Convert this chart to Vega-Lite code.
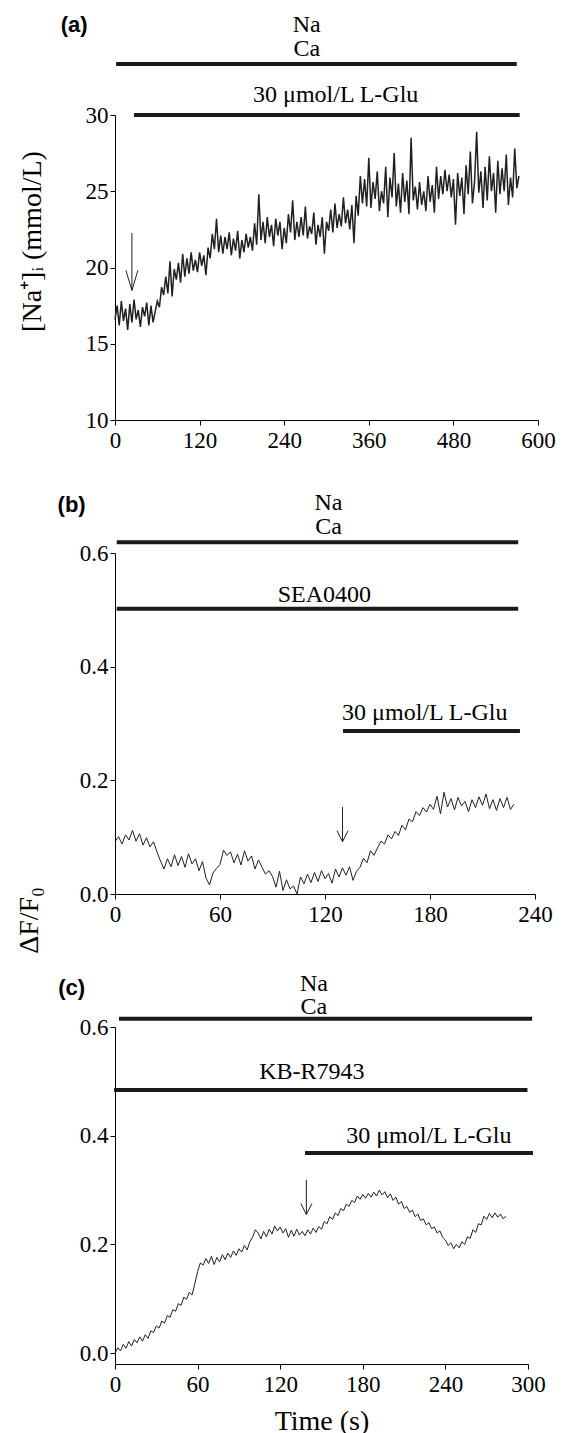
{
"$schema": "https://vega.github.io/schema/vega-lite/v6.json",
"padding": {"left": 15, "top": 13, "right": 5, "bottom": 5},
"bounds": "flush",
"spacing": 133,
"config": {
  "view": {"stroke": null},
  "font": "Liberation Serif",
  "text": {"font": "Liberation Serif", "color": "#000"}
},
"datasets": {
  "traceA": [
    {"t":0,"v":16.6},{"t":3,"v":17.5},{"t":6,"v":16.2},{"t":9,"v":17.8},{"t":12,"v":16.5},{"t":15,"v":17.3},{"t":18,"v":15.9},{"t":21,"v":17.6},{"t":24,"v":16.4},{"t":27,"v":17.9},
    {"t":30,"v":16.6},{"t":33,"v":17.2},{"t":36,"v":16.1},{"t":39,"v":17.4},{"t":42,"v":16.8},{"t":45,"v":17.7},{"t":48,"v":16.2},{"t":51,"v":17.5},{"t":54,"v":16.4},{"t":57,"v":17.1},
    {"t":60,"v":17.8},{"t":63,"v":17.4},{"t":66,"v":18.7},{"t":69,"v":18.2},{"t":72,"v":19.4},{"t":75,"v":18.3},{"t":78,"v":20.4},{"t":81,"v":18.1},{"t":84,"v":19.9},{"t":87,"v":19.2},
    {"t":90,"v":20.3},{"t":93,"v":19.0},{"t":96,"v":20.9},{"t":99,"v":19.4},{"t":102,"v":20.6},{"t":105,"v":19.6},{"t":108,"v":21.0},{"t":111,"v":19.8},{"t":114,"v":20.5},{"t":117,"v":19.7},
    {"t":120,"v":21.0},{"t":123,"v":20.1},{"t":126,"v":20.8},{"t":129,"v":19.5},{"t":132,"v":21.3},{"t":135,"v":20.6},{"t":138,"v":22.2},{"t":141,"v":21.2},{"t":144,"v":23.2},{"t":147,"v":21.0},
    {"t":150,"v":22.1},{"t":153,"v":20.9},{"t":156,"v":22.0},{"t":159,"v":21.2},{"t":162,"v":22.3},{"t":165,"v":20.8},{"t":168,"v":21.9},{"t":171,"v":21.1},{"t":174,"v":22.4},{"t":177,"v":20.6},
    {"t":180,"v":21.8},{"t":183,"v":21.0},{"t":186,"v":22.2},{"t":189,"v":21.3},{"t":192,"v":22.0},{"t":195,"v":21.1},{"t":198,"v":22.9},{"t":201,"v":21.5},{"t":204,"v":24.8},{"t":207,"v":21.8},
    {"t":210,"v":23.0},{"t":213,"v":21.6},{"t":216,"v":23.3},{"t":219,"v":22.0},{"t":222,"v":22.8},{"t":225,"v":21.4},{"t":228,"v":23.2},{"t":231,"v":22.1},{"t":234,"v":23.0},{"t":237,"v":21.2},
    {"t":240,"v":22.6},{"t":243,"v":21.6},{"t":246,"v":23.5},{"t":249,"v":22.3},{"t":252,"v":24.4},{"t":255,"v":21.8},{"t":258,"v":23.0},{"t":261,"v":22.0},{"t":264,"v":23.3},{"t":267,"v":22.1},
    {"t":270,"v":24.0},{"t":273,"v":21.9},{"t":276,"v":22.7},{"t":279,"v":22.2},{"t":282,"v":23.6},{"t":285,"v":21.5},{"t":288,"v":22.8},{"t":291,"v":22.0},{"t":294,"v":23.3},{"t":297,"v":20.9},
    {"t":300,"v":23.0},{"t":303,"v":22.4},{"t":306,"v":23.8},{"t":309,"v":22.3},{"t":312,"v":24.2},{"t":315,"v":22.6},{"t":318,"v":23.5},{"t":321,"v":22.7},{"t":324,"v":24.6},{"t":327,"v":22.9},
    {"t":330,"v":23.8},{"t":333,"v":22.5},{"t":336,"v":24.1},{"t":339,"v":21.6},{"t":342,"v":24.7},{"t":345,"v":23.4},{"t":348,"v":26.0},{"t":351,"v":24.2},{"t":354,"v":25.8},{"t":357,"v":24.0},
    {"t":360,"v":27.2},{"t":363,"v":23.9},{"t":366,"v":25.6},{"t":369,"v":24.5},{"t":372,"v":26.3},{"t":375,"v":23.7},{"t":378,"v":25.0},{"t":381,"v":24.2},{"t":384,"v":26.6},{"t":387,"v":23.3},
    {"t":390,"v":25.9},{"t":393,"v":24.6},{"t":396,"v":27.5},{"t":399,"v":24.0},{"t":402,"v":25.5},{"t":405,"v":23.6},{"t":408,"v":26.2},{"t":411,"v":24.3},{"t":414,"v":25.7},{"t":417,"v":23.5},
    {"t":420,"v":28.5},{"t":423,"v":24.4},{"t":426,"v":25.3},{"t":429,"v":23.8},{"t":432,"v":25.6},{"t":435,"v":24.1},{"t":438,"v":25.0},{"t":441,"v":23.7},{"t":444,"v":26.0},{"t":447,"v":24.3},
    {"t":450,"v":25.4},{"t":453,"v":23.6},{"t":456,"v":26.6},{"t":459,"v":24.5},{"t":462,"v":26.0},{"t":465,"v":24.8},{"t":468,"v":26.4},{"t":471,"v":25.0},{"t":474,"v":26.1},{"t":477,"v":24.6},
    {"t":480,"v":25.8},{"t":483,"v":22.8},{"t":486,"v":26.2},{"t":489,"v":24.7},{"t":492,"v":25.9},{"t":495,"v":23.5},{"t":498,"v":26.7},{"t":501,"v":24.8},{"t":504,"v":27.6},{"t":507,"v":24.2},
    {"t":510,"v":25.6},{"t":513,"v":28.9},{"t":516,"v":24.9},{"t":519,"v":26.3},{"t":522,"v":23.9},{"t":525,"v":26.6},{"t":528,"v":24.4},{"t":531,"v":27.3},{"t":534,"v":25.0},{"t":537,"v":26.2},
    {"t":540,"v":23.6},{"t":543,"v":27.0},{"t":546,"v":24.8},{"t":549,"v":26.5},{"t":552,"v":25.0},{"t":555,"v":27.4},{"t":558,"v":24.1},{"t":561,"v":25.9},{"t":564,"v":24.6},{"t":567,"v":27.8},
    {"t":570,"v":25.2},{"t":573,"v":26.0}
  ],
  "traceB": [
    {"t":0,"v":0.092},{"t":2,"v":0.101},{"t":4,"v":0.088},{"t":6,"v":0.104},{"t":8,"v":0.095},{"t":10,"v":0.112},{"t":12,"v":0.093},{"t":14,"v":0.106},{"t":16,"v":0.086},{"t":18,"v":0.099},
    {"t":20,"v":0.083},{"t":22,"v":0.092},{"t":24,"v":0.074},{"t":26,"v":0.058},{"t":28,"v":0.044},{"t":30,"v":0.062},{"t":32,"v":0.048},{"t":34,"v":0.069},{"t":36,"v":0.050},{"t":38,"v":0.066},
    {"t":40,"v":0.047},{"t":42,"v":0.071},{"t":44,"v":0.053},{"t":46,"v":0.062},{"t":48,"v":0.041},{"t":50,"v":0.057},{"t":52,"v":0.028},{"t":54,"v":0.016},{"t":56,"v":0.037},{"t":58,"v":0.045},
    {"t":60,"v":0.052},{"t":62,"v":0.077},{"t":64,"v":0.068},{"t":66,"v":0.074},{"t":68,"v":0.055},{"t":70,"v":0.070},{"t":72,"v":0.051},{"t":74,"v":0.076},{"t":76,"v":0.058},{"t":78,"v":0.067},
    {"t":80,"v":0.044},{"t":82,"v":0.060},{"t":84,"v":0.047},{"t":86,"v":0.035},{"t":88,"v":0.041},{"t":90,"v":0.031},{"t":92,"v":0.012},{"t":94,"v":0.040},{"t":96,"v":0.006},{"t":98,"v":0.025},
    {"t":100,"v":0.009},{"t":102,"v":0.014},{"t":104,"v":0.0},{"t":106,"v":0.030},{"t":108,"v":0.018},{"t":110,"v":0.035},{"t":112,"v":0.020},{"t":114,"v":0.038},{"t":116,"v":0.022},{"t":118,"v":0.041},
    {"t":120,"v":0.027},{"t":122,"v":0.036},{"t":124,"v":0.019},{"t":126,"v":0.044},{"t":128,"v":0.030},{"t":130,"v":0.046},{"t":132,"v":0.033},{"t":134,"v":0.048},{"t":136,"v":0.024},{"t":138,"v":0.040},
    {"t":140,"v":0.047},{"t":142,"v":0.063},{"t":144,"v":0.055},{"t":146,"v":0.076},{"t":148,"v":0.068},{"t":150,"v":0.081},{"t":152,"v":0.093},{"t":154,"v":0.088},{"t":156,"v":0.104},{"t":158,"v":0.097},
    {"t":160,"v":0.110},{"t":162,"v":0.103},{"t":164,"v":0.121},{"t":166,"v":0.113},{"t":168,"v":0.132},{"t":170,"v":0.127},{"t":172,"v":0.145},{"t":174,"v":0.138},{"t":176,"v":0.152},{"t":178,"v":0.144},
    {"t":180,"v":0.158},{"t":182,"v":0.149},{"t":184,"v":0.172},{"t":186,"v":0.141},{"t":188,"v":0.179},{"t":190,"v":0.153},{"t":192,"v":0.168},{"t":194,"v":0.148},{"t":196,"v":0.170},{"t":198,"v":0.155},
    {"t":200,"v":0.163},{"t":202,"v":0.145},{"t":204,"v":0.166},{"t":206,"v":0.152},{"t":208,"v":0.171},{"t":210,"v":0.156},{"t":212,"v":0.176},{"t":214,"v":0.150},{"t":216,"v":0.166},{"t":218,"v":0.147},
    {"t":220,"v":0.168},{"t":222,"v":0.152},{"t":224,"v":0.170},{"t":226,"v":0.149},{"t":228,"v":0.158}
  ],
  "traceC": [
    {"t":0,"v":0.000},{"t":2,"v":0.010},{"t":4,"v":0.004},{"t":6,"v":0.016},{"t":8,"v":0.009},{"t":10,"v":0.021},{"t":12,"v":0.013},{"t":14,"v":0.025},{"t":16,"v":0.019},{"t":18,"v":0.030},
    {"t":20,"v":0.022},{"t":22,"v":0.034},{"t":24,"v":0.027},{"t":26,"v":0.041},{"t":28,"v":0.038},{"t":30,"v":0.050},{"t":32,"v":0.046},{"t":34,"v":0.059},{"t":36,"v":0.055},{"t":38,"v":0.069},
    {"t":40,"v":0.066},{"t":42,"v":0.080},{"t":44,"v":0.077},{"t":46,"v":0.091},{"t":48,"v":0.088},{"t":50,"v":0.103},{"t":52,"v":0.099},{"t":54,"v":0.112},{"t":56,"v":0.107},{"t":58,"v":0.128},
    {"t":60,"v":0.150},{"t":62,"v":0.166},{"t":64,"v":0.162},{"t":66,"v":0.174},{"t":68,"v":0.165},{"t":70,"v":0.178},{"t":72,"v":0.163},{"t":74,"v":0.176},{"t":76,"v":0.168},{"t":78,"v":0.181},
    {"t":80,"v":0.172},{"t":82,"v":0.184},{"t":84,"v":0.176},{"t":86,"v":0.188},{"t":88,"v":0.180},{"t":90,"v":0.192},{"t":92,"v":0.186},{"t":94,"v":0.198},{"t":96,"v":0.190},{"t":98,"v":0.205},
    {"t":100,"v":0.214},{"t":102,"v":0.227},{"t":104,"v":0.221},{"t":106,"v":0.210},{"t":108,"v":0.224},{"t":110,"v":0.214},{"t":112,"v":0.228},{"t":114,"v":0.219},{"t":116,"v":0.234},{"t":118,"v":0.225},
    {"t":120,"v":0.232},{"t":122,"v":0.221},{"t":124,"v":0.229},{"t":126,"v":0.213},{"t":128,"v":0.226},{"t":130,"v":0.215},{"t":132,"v":0.228},{"t":134,"v":0.217},{"t":136,"v":0.224},{"t":138,"v":0.216},
    {"t":140,"v":0.227},{"t":142,"v":0.219},{"t":144,"v":0.230},{"t":146,"v":0.222},{"t":148,"v":0.233},{"t":150,"v":0.228},{"t":152,"v":0.242},{"t":154,"v":0.238},{"t":156,"v":0.251},{"t":158,"v":0.246},
    {"t":160,"v":0.258},{"t":162,"v":0.253},{"t":164,"v":0.266},{"t":166,"v":0.262},{"t":168,"v":0.274},{"t":170,"v":0.270},{"t":172,"v":0.281},{"t":174,"v":0.277},{"t":176,"v":0.289},{"t":178,"v":0.283},
    {"t":180,"v":0.292},{"t":182,"v":0.285},{"t":184,"v":0.294},{"t":186,"v":0.287},{"t":188,"v":0.296},{"t":190,"v":0.289},{"t":192,"v":0.300},{"t":194,"v":0.291},{"t":196,"v":0.297},{"t":198,"v":0.286},
    {"t":200,"v":0.293},{"t":202,"v":0.281},{"t":204,"v":0.287},{"t":206,"v":0.274},{"t":208,"v":0.279},{"t":210,"v":0.266},{"t":212,"v":0.270},{"t":214,"v":0.259},{"t":216,"v":0.263},{"t":218,"v":0.251},
    {"t":220,"v":0.256},{"t":222,"v":0.244},{"t":224,"v":0.247},{"t":226,"v":0.236},{"t":228,"v":0.240},{"t":230,"v":0.229},{"t":232,"v":0.232},{"t":234,"v":0.221},{"t":236,"v":0.225},{"t":238,"v":0.213},
    {"t":240,"v":0.208},{"t":242,"v":0.198},{"t":244,"v":0.203},{"t":246,"v":0.192},{"t":248,"v":0.200},{"t":250,"v":0.194},{"t":252,"v":0.205},{"t":254,"v":0.200},{"t":256,"v":0.214},{"t":258,"v":0.211},
    {"t":260,"v":0.227},{"t":262,"v":0.222},{"t":264,"v":0.238},{"t":266,"v":0.236},{"t":268,"v":0.252},{"t":270,"v":0.246},{"t":272,"v":0.257},{"t":274,"v":0.249},{"t":276,"v":0.258},{"t":278,"v":0.250},
    {"t":280,"v":0.256},{"t":282,"v":0.247},{"t":284,"v":0.252}
  ],
  "barsA": [{"start":1.6,"end":569.8,"level":33.34},{"start":27,"end":574,"level":30}],
  "labelsA": [{"label":"Na\nCa","t":272,"v":35.9},{"label":"30 μmol/L L-Glu","t":313,"v":31.3}],
  "panelA": [{"label":"(a)","t":-58,"v":35.9}],
  "arrowA": [{"t":24,"top":22.26,"tip":18.5}],
  "barsB": [{"start":1.0,"end":230.4,"level":0.619},{"start":1.0,"end":230.4,"level":0.502},{"start":130.3,"end":231.4,"level":0.2866}],
  "labelsB": [{"label":"Na\nCa","t":122,"v":0.688},{"label":"SEA0400","t":119.6,"v":0.526},{"label":"30 μmol/L L-Glu","t":177,"v":0.318}],
  "panelB": [{"label":"(b)","t":-24.8,"v":0.685}],
  "arrowB": [{"t":130,"top":0.153,"tip":0.092}],
  "barsC": [{"start":2.9,"end":303,"level":0.615},{"start":-0.7,"end":299.6,"level":0.484},{"start":138,"end":303.6,"level":0.368}],
  "labelsC": [{"label":"Na\nCa","t":144.5,"v":0.680},{"label":"KB-R7943","t":143,"v":0.517},{"label":"30 μmol/L L-Glu","t":228,"v":0.400}],
  "panelC": [{"label":"(c)","t":-31.5,"v":0.671}],
  "arrowC": [{"t":139,"top":0.319,"tip":0.255}]
},
"vconcat": [
  {
    "width": 423, "height": 305,
    "layer": [
      {"data": {"name": "traceA"}, "mark": {"type": "line", "color": "#231f20", "strokeWidth": 1.5},
       "encoding": {
         "x": {"field": "t", "type": "quantitative", "scale": {"domain": [0, 600], "nice": false},
               "axis": {"values": [0,120,240,360,480,600], "title": null, "labelFont": "Liberation Serif", "labelFontSize": 23, "labelColor": "#000", "domainColor": "#000", "tickColor": "#000", "tickSize": 5, "labelPadding": 4, "labelFlush": false, "labelOverlap": false, "grid": false}},
         "y": {"field": "v", "type": "quantitative", "scale": {"domain": [10, 30], "nice": false, "zero": false},
               "axis": {"values": [10,15,20,25,30], "format": "d", "title": "[Na⁺]ᵢ (mmol/L)", "titleFont": "Liberation Serif", "titleFontSize": 28, "titleFontWeight": "normal", "titleColor": "#000", "titleAngle": 270, "titleX": -83, "titleY": 126, "titleBaseline": "middle", "titleAlign": "center", "labelFont": "Liberation Serif", "labelFontSize": 23, "labelColor": "#000", "domainColor": "#000", "tickColor": "#000", "tickSize": 5, "labelPadding": 2, "labelFlush": false, "labelOverlap": false, "grid": false}}}},
      {"data": {"name": "barsA"}, "mark": {"type": "rule", "strokeWidth": 4, "color": "#1a1a1a"},
       "encoding": {"x": {"field": "start", "type": "quantitative"}, "x2": {"field": "end"}, "y": {"field": "level", "type": "quantitative"}}},
      {"data": {"name": "labelsA"}, "mark": {"type": "text", "font": "Liberation Serif", "fontSize": 24, "align": "center", "baseline": "middle", "lineBreak": "\n", "lineHeight": 23.5},
       "encoding": {"x": {"field": "t", "type": "quantitative"}, "y": {"field": "v", "type": "quantitative"}, "text": {"field": "label"}}},
      {"data": {"name": "panelA"}, "mark": {"type": "text", "font": "Liberation Sans", "fontWeight": "bold", "fontSize": 22, "align": "center", "baseline": "middle"},
       "encoding": {"x": {"field": "t", "type": "quantitative"}, "y": {"field": "v", "type": "quantitative"}, "text": {"field": "label"}}},
      {"data": {"name": "arrowA"}, "mark": {"type": "rule", "strokeWidth": 1, "color": "#231f20"},
       "encoding": {"x": {"field": "t", "type": "quantitative"}, "y": {"field": "top", "type": "quantitative"}, "y2": {"field": "tip"}}},
      {"data": {"name": "arrowA"}, "mark": {"type": "point", "shape": "M-0.6,-2L0,0L0.6,-2", "size": 400, "filled": false, "strokeWidth": 1, "color": "#231f20", "opacity": 1},
       "encoding": {"x": {"field": "t", "type": "quantitative"}, "y": {"field": "tip", "type": "quantitative"}}}
    ]
  },
  {
    "width": 420, "height": 341,
    "layer": [
      {"data": {"name": "traceB"}, "mark": {"type": "line", "color": "#231f20", "strokeWidth": 1},
       "encoding": {
         "x": {"field": "t", "type": "quantitative", "scale": {"domain": [0, 240], "nice": false},
               "axis": {"values": [0,60,120,180,240], "title": null, "labelFont": "Liberation Serif", "labelFontSize": 23, "labelColor": "#000", "domainColor": "#000", "tickColor": "#000", "tickSize": 5, "labelPadding": 4, "labelFlush": false, "labelOverlap": false, "grid": false}},
         "y": {"field": "v", "type": "quantitative", "scale": {"domain": [0, 0.6], "nice": false},
               "axis": {"values": [0,0.2,0.4,0.6], "format": ".1f", "title": "ΔF/F₀", "titleFont": "Liberation Serif", "titleFontSize": 28, "titleFontWeight": "normal", "titleColor": "#000", "titleAngle": 270, "titleX": -86, "titleY": 367, "titleBaseline": "middle", "titleAlign": "center", "labelFont": "Liberation Serif", "labelFontSize": 23, "labelColor": "#000", "domainColor": "#000", "tickColor": "#000", "tickSize": 5, "labelPadding": 2, "labelFlush": false, "labelOverlap": false, "grid": false}}}},
      {"data": {"name": "barsB"}, "mark": {"type": "rule", "strokeWidth": 4, "color": "#1a1a1a"},
       "encoding": {"x": {"field": "start", "type": "quantitative"}, "x2": {"field": "end"}, "y": {"field": "level", "type": "quantitative"}}},
      {"data": {"name": "labelsB"}, "mark": {"type": "text", "font": "Liberation Serif", "fontSize": 24, "align": "center", "baseline": "middle", "lineBreak": "\n", "lineHeight": 24.3},
       "encoding": {"x": {"field": "t", "type": "quantitative"}, "y": {"field": "v", "type": "quantitative"}, "text": {"field": "label"}}},
      {"data": {"name": "panelB"}, "mark": {"type": "text", "font": "Liberation Sans", "fontWeight": "bold", "fontSize": 22, "align": "center", "baseline": "middle"},
       "encoding": {"x": {"field": "t", "type": "quantitative"}, "y": {"field": "v", "type": "quantitative"}, "text": {"field": "label"}}},
      {"data": {"name": "arrowB"}, "mark": {"type": "rule", "strokeWidth": 1, "color": "#231f20"},
       "encoding": {"x": {"field": "t", "type": "quantitative"}, "y": {"field": "top", "type": "quantitative"}, "y2": {"field": "tip"}}},
      {"data": {"name": "arrowB"}, "mark": {"type": "point", "shape": "M-0.55,-1.1L0,0L0.55,-1.1", "size": 400, "filled": false, "strokeWidth": 1, "color": "#231f20", "opacity": 1},
       "encoding": {"x": {"field": "t", "type": "quantitative"}, "y": {"field": "tip", "type": "quantitative"}}}
    ]
  },
  {
    "width": 413, "height": 337,
    "layer": [
      {"data": {"name": "traceC"}, "mark": {"type": "line", "color": "#231f20", "strokeWidth": 1},
       "encoding": {
         "x": {"field": "t", "type": "quantitative", "scale": {"domain": [0, 300], "nice": false},
               "axis": {"values": [0,60,120,180,240,300], "title": "Time (s)", "titlePadding": 11, "titleFont": "Liberation Serif", "titleFontSize": 28, "titleFontWeight": "normal", "titleColor": "#000", "labelFont": "Liberation Serif", "labelFontSize": 23, "labelColor": "#000", "domainColor": "#000", "tickColor": "#000", "tickSize": 5, "labelPadding": 4, "labelFlush": false, "labelOverlap": false, "grid": false}},
         "y": {"field": "v", "type": "quantitative", "scale": {"domain": [-0.02, 0.6], "nice": false, "zero": false},
               "axis": {"values": [0,0.2,0.4,0.6], "format": ".1f", "title": null, "labelFont": "Liberation Serif", "labelFontSize": 23, "labelColor": "#000", "domainColor": "#000", "tickColor": "#000", "tickSize": 5, "labelPadding": 2, "labelFlush": false, "labelOverlap": false, "grid": false}}}},
      {"data": {"name": "barsC"}, "mark": {"type": "rule", "strokeWidth": 4, "color": "#1a1a1a"},
       "encoding": {"x": {"field": "start", "type": "quantitative"}, "x2": {"field": "end"}, "y": {"field": "level", "type": "quantitative"}}},
      {"data": {"name": "labelsC"}, "mark": {"type": "text", "font": "Liberation Serif", "fontSize": 24, "align": "center", "baseline": "middle", "lineBreak": "\n", "lineHeight": 23.3},
       "encoding": {"x": {"field": "t", "type": "quantitative"}, "y": {"field": "v", "type": "quantitative"}, "text": {"field": "label"}}},
      {"data": {"name": "panelC"}, "mark": {"type": "text", "font": "Liberation Sans", "fontWeight": "bold", "fontSize": 22, "align": "center", "baseline": "middle"},
       "encoding": {"x": {"field": "t", "type": "quantitative"}, "y": {"field": "v", "type": "quantitative"}, "text": {"field": "label"}}},
      {"data": {"name": "arrowC"}, "mark": {"type": "rule", "strokeWidth": 1, "color": "#231f20"},
       "encoding": {"x": {"field": "t", "type": "quantitative"}, "y": {"field": "top", "type": "quantitative"}, "y2": {"field": "tip"}}},
      {"data": {"name": "arrowC"}, "mark": {"type": "point", "shape": "M-0.55,-1.1L0,0L0.55,-1.1", "size": 400, "filled": false, "strokeWidth": 1, "color": "#231f20", "opacity": 1},
       "encoding": {"x": {"field": "t", "type": "quantitative"}, "y": {"field": "tip", "type": "quantitative"}}}
    ]
  }
]
}
